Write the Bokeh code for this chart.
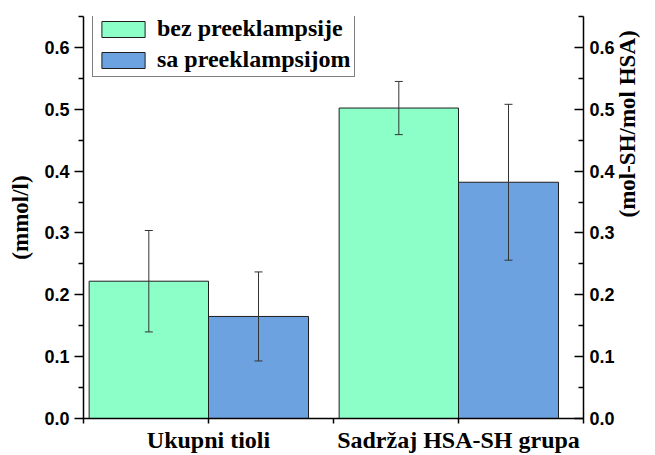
import math
from bokeh.plotting import figure
from bokeh.models import (Range1d, LinearAxis, FixedTicker, PrintfTickFormatter,
                          ColumnDataSource, Whisker, TeeHead, Legend, LegendItem)
from bokeh.embed import file_html
from bokeh.resources import INLINE

# ---- data ----
categories = ["Ukupni tioli", "Sadržaj HSA-SH grupa"]
series_names = ["bez preeklampsije", "sa preeklampsijom"]
bez_mean = [0.222, 0.502]
bez_err = [0.082, 0.043]
sa_mean = [0.165, 0.382]
sa_err = [0.072, 0.126]
y_ticks = [0.0, 0.1, 0.2, 0.3, 0.4, 0.5, 0.6]
y_minor = [0.05, 0.15, 0.25, 0.35, 0.45, 0.55, 0.65]

# ---- style ----
GREEN = "#8CFFC8"
BLUE = "#6CA2E0"
OUTLINE = "#1e1e1e"
GREEN_W = 0.955
BLUE_W = 0.80
TICK_FONT = "Liberation Sans"
SERIF = "Liberation Serif"

cat_pos = [1 + 2 * i for i in range(len(categories))]
x_ticks = [0, 1, 2, 3, 4]

p = figure(width=655, height=455, output_backend="svg", toolbar_location=None,
           x_range=Range1d(0, 4), y_range=Range1d(0, 0.65),
           min_border_left=83, min_border_right=69, min_border_top=16, min_border_bottom=37)
p.outline_line_color = None
p.xgrid.visible = False
p.ygrid.visible = False
p.background_fill_color = "white"

src_g = ColumnDataSource(dict(left=[c - GREEN_W for c in cat_pos], right=cat_pos,
                              top=bez_mean, bottom=[0] * len(cat_pos),
                              mid=[c - GREEN_W / 2 for c in cat_pos],
                              up=[m + e for m, e in zip(bez_mean, bez_err)],
                              lo=[m - e for m, e in zip(bez_mean, bez_err)]))
src_b = ColumnDataSource(dict(left=cat_pos, right=[c + BLUE_W for c in cat_pos],
                              top=sa_mean, bottom=[0] * len(cat_pos),
                              mid=[c + BLUE_W / 2 for c in cat_pos],
                              up=[m + e for m, e in zip(sa_mean, sa_err)],
                              lo=[m - e for m, e in zip(sa_mean, sa_err)]))

rg = p.quad(left="left", right="right", top="top", bottom="bottom", source=src_g,
            fill_color=GREEN, line_color=OUTLINE, line_width=1)
rb = p.quad(left="left", right="right", top="top", bottom="bottom", source=src_b,
            fill_color=BLUE, line_color=OUTLINE, line_width=1)

for src in (src_g, src_b):
    w = Whisker(base="mid", upper="up", lower="lo", source=src,
                line_color="#333333", line_width=1, level="overlay",
                upper_head=TeeHead(size=8, line_color="#333333", line_width=1),
                lower_head=TeeHead(size=8, line_color="#333333", line_width=1))
    p.add_layout(w)

# x axis with category labels
xa = p.xaxis[0]
xa.ticker = FixedTicker(ticks=x_ticks)
overrides = {t: "" for t in x_ticks}
for pos, name in zip(cat_pos, categories):
    overrides[pos] = name
xa.major_label_overrides = overrides
xa.major_label_text_font = SERIF
xa.major_label_text_font_style = "bold"
xa.major_label_text_font_size = "24px"
xa.major_label_text_color = "black"
xa.major_label_standoff = 3
xa.major_tick_out = 5
xa.major_tick_in = 0
xa.minor_tick_line_color = None
xa.axis_line_width = 1.5
xa.major_tick_line_width = 1.5
xa.axis_line_color = "black"

# left y axis
ya = p.yaxis[0]
ya.ticker = FixedTicker(ticks=y_ticks, minor_ticks=y_minor)
ya.formatter = PrintfTickFormatter(format="%.1f")
ya.major_tick_out = 9
ya.major_tick_in = 0
ya.minor_tick_out = 5
ya.minor_tick_in = 0
ya.major_label_standoff = 5
ya.axis_label = "(mmol/l)"
ya.axis_label_standoff = 8

ra = LinearAxis(ticker=FixedTicker(ticks=y_ticks, minor_ticks=y_minor),
                formatter=PrintfTickFormatter(format="%.1f"))
ra.major_tick_out = 0
ra.major_tick_in = 9
ra.minor_tick_out = 0
ra.minor_tick_in = 5
ra.major_label_standoff = 6
ra.axis_label = "(mol-SH/mol HSA)"
ra.axis_label_standoff = 10
ra.axis_label_orientation = math.pi / 2
ra.axis_label_text_baseline = "top"
p.add_layout(ra, "right")

for ax in (ya, ra):
    ax.axis_line_width = 1.5
    ax.major_tick_line_width = 1.5
    ax.minor_tick_line_width = 1.5
    ax.axis_line_color = "black"
    ax.major_label_text_font = TICK_FONT
    ax.major_label_text_font_style = "bold"
    ax.major_label_text_font_size = "18px"
    ax.major_label_text_color = "black"
    ax.axis_label_text_font = SERIF
    ax.axis_label_text_font_style = "bold"
    ax.axis_label_text_font_size = "23px"
    ax.axis_label_text_color = "black"

legend = Legend(items=[LegendItem(label=series_names[0], renderers=[rg]),
                       LegendItem(label=series_names[1], renderers=[rb])],
                location=(9, 341))
legend.border_line_color = "black"
legend.border_line_width = 1
legend.background_fill_alpha = 1
legend.padding = 3
legend.margin = 0
legend.spacing = 4
legend.glyph_width = 54
legend.glyph_height = 20
legend.label_height = 20
legend.label_standoff = 7
legend.label_text_font = SERIF
legend.label_text_font_style = "bold"
legend.label_text_font_size = "24px"
legend.label_text_color = "black"
legend.label_text_baseline = "middle"
legend.level = "overlay"
p.add_layout(legend)

open("out.html", "w").write(file_html(p, INLINE))
